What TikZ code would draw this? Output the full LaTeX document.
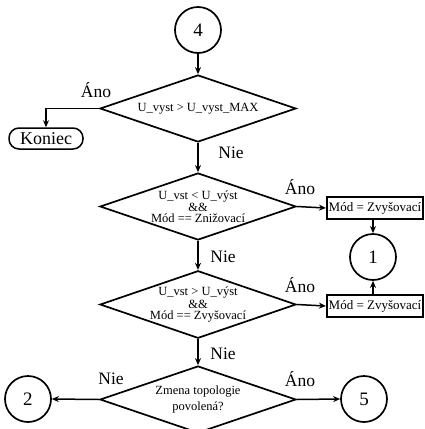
\documentclass[tikz,border=0pt]{standalone}
\usepackage{fontspec}
\setmainfont{Liberation Serif}
\usetikzlibrary{shapes.geometric,arrows.meta}

\begin{document}
\begin{tikzpicture}[x=1pt,y=-1pt,
  line width=1.7pt,
  dec/.style={draw,diamond,inner sep=0pt,minimum width=196pt,minimum height=67pt,
    aspect=2.9,align=center,font=\fontsize{12.5}{11}\selectfont},
  conn/.style={draw,circle,minimum size=46pt,inner sep=0pt,
    font=\fontsize{19}{20}\selectfont},
  act/.style={draw,line width=2.2pt,minimum width=96pt,minimum height=22pt,
    inner sep=1pt,font=\fontsize{13}{14}\selectfont},
  term/.style={draw,rounded corners=10pt,line width=1.5pt,minimum width=74pt,
    minimum height=21pt,inner sep=1pt,font=\fontsize{18}{19}\selectfont},
  lbl/.style={inner sep=0pt,font=\fontsize{17.5}{18}\selectfont},
  arr/.style={-{Stealth[length=7pt,width=6pt]},line width=1.5pt}
]
\useasboundingbox (0,0) rectangle (424,429);

% connectors and terminator
\node[conn] (c4) at (198,30) {4};
\node[term] (kon) at (46,138.5) {Koniec};
\node[conn] (c1) at (373,257) {1};
\node[conn] (c2) at (28,399) {2};
\node[conn] (c5) at (364,399) {5};

% decisions
\node[dec] (d1) at (198,108.5) {U\_vyst > U\_vyst\_MAX};
\node[dec] (d2) at (198,206.5) {U\_vst < U\_výst\\\&\&\\Mód == Znižovací};
\node[dec] (d3) at (198,304.5) {U\_vst > U\_výst\\\&\&\\Mód == Zvyšovací};
\node[dec] (d4) at (198,399.5) {Zmena topologie\\[3pt]povolená?};

% actions
\node[act] (m1) at (375,208) {Mód = Zvyšovací};
\node[act] (m2) at (375,306) {Mód = Zvyšovací};

% flow
\draw[arr] (c4) -- (d1);
\draw[arr] (d1.west) -| (kon.north);
\draw[arr] (d1) -- (d2);
\draw[arr] (d2) -- (d3);
\draw[arr] (d3) -- (d4);
\draw[arr] (d2.east) -- (m1.west);
\draw[arr] (d3.east) -- (m2.west);
\draw[arr] (m1.south -| c1) -- (c1.north);
\draw[arr] (m2.north -| c1) -- (c1.south);
\draw[arr] (d4.west) -- (c2.east);
\draw[arr] (d4.east) -- (c5.west);

% branch labels
\node[lbl] (a1) at (96,90) {Áno};
\node[lbl] (n1) at (231,153) {Nie};
\node[lbl] (a2) at (300,187) {Áno};
\node[lbl] (n2) at (223,257) {Nie};
\node[lbl] (a3) at (300,285) {Áno};
\node[lbl] (n3) at (223,354) {Nie};
\node[lbl] (n4) at (111,379) {Nie};
\node[lbl] (a4) at (300,379) {Áno};
\end{tikzpicture}
\end{document}
